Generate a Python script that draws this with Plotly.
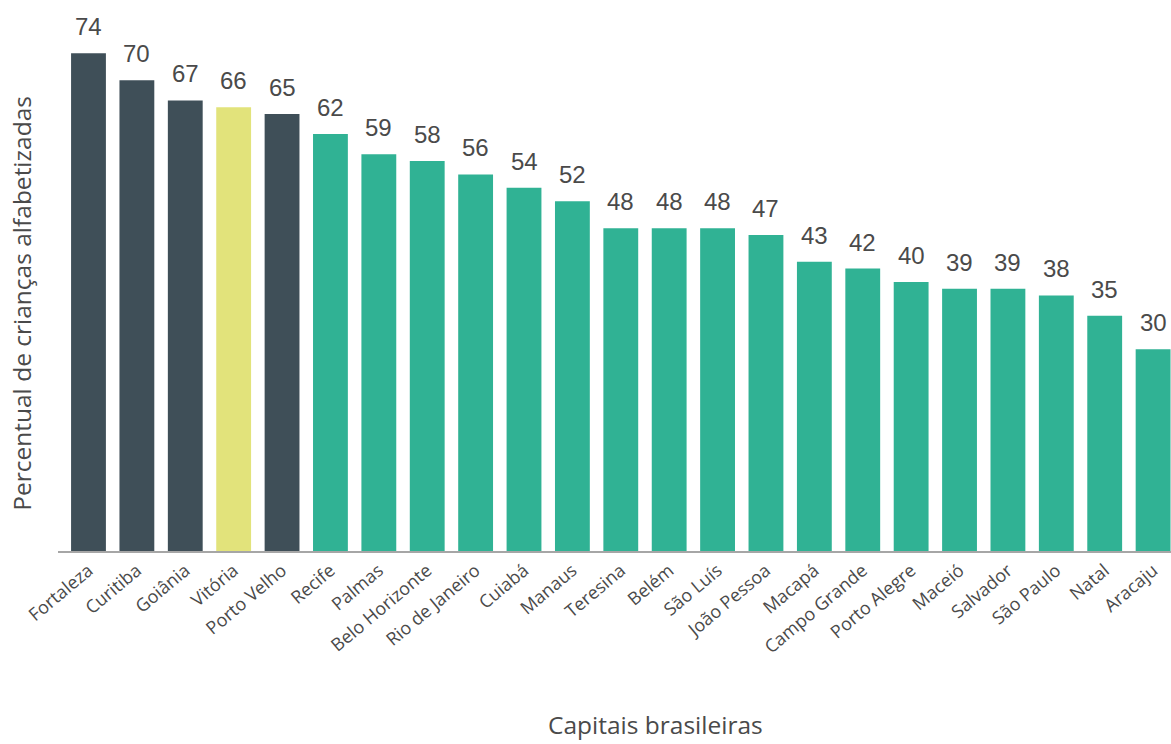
import plotly.graph_objects as go

cities = ["Fortaleza", "Curitiba", "Goiânia", "Vitória", "Porto Velho", "Recife", "Palmas",
          "Belo Horizonte", "Rio de Janeiro", "Cuiabá", "Manaus", "Teresina", "Belém",
          "São Luís", "João Pessoa", "Macapá", "Campo Grande", "Porto Alegre", "Maceió",
          "Salvador", "São Paulo", "Natal", "Aracaju"]
values = [74, 70, 67, 66, 65, 62, 59, 58, 56, 54, 52, 48, 48, 48, 47, 43, 42, 40, 39, 39, 38, 35, 30]
groups = ["dark"] * 3 + ["highlight"] + ["dark"] + ["teal"] * 18

palette = {"dark": "#3F4F58", "highlight": "#E2E37B", "teal": "#30B294"}
colors = [palette[g] for g in groups]

fig = go.Figure()
fig.add_trace(go.Bar(x=cities, y=values, marker=dict(color=colors, line=dict(width=0)),
                     width=0.72, hoverinfo="x+y"))

for c, v in zip(cities, values):
    fig.add_annotation(x=c, y=v, text=str(v), showarrow=False, yanchor="bottom", yshift=11,
                       font=dict(family="Liberation Sans, Arial", size=24, color="#4A4A4A"))

fig.add_annotation(xref="paper", yref="paper", x=-0.033, y=0.46, text="Percentual de crianças alfabetizadas",
                   textangle=-90, showarrow=False, xanchor="center", yanchor="middle",
                   font=dict(family="Open Sans, Liberation Sans", size=24.5, color="#4A4A4A"))
fig.add_annotation(xref="paper", yref="paper", x=0.537, y=-0.322, text="Capitais brasileiras",
                   showarrow=False, xanchor="center", yanchor="middle",
                   font=dict(family="Open Sans, Liberation Sans", size=24.5, color="#4A4A4A"))

fig.update_layout(
    width=1171, height=744,
    margin=dict(l=58, r=0, t=13, b=193),
    plot_bgcolor="white", paper_bgcolor="white",
    showlegend=False,
    xaxis=dict(range=[-0.63, 22.37], showgrid=False, showline=True, linecolor="#A6A6A6", linewidth=2,
               ticks="", tickangle=-40,
               tickfont=dict(family="Open Sans, Liberation Sans", size=18, color="#4A4A4A")),
    yaxis=dict(range=[0, 80], showgrid=False, showticklabels=False, zeroline=False, showline=False),
)

fig.write_html("out.html", config={"displayModeBar": False},
               post_script="document.body.style.margin='0';document.body.style.overflow='hidden';")
